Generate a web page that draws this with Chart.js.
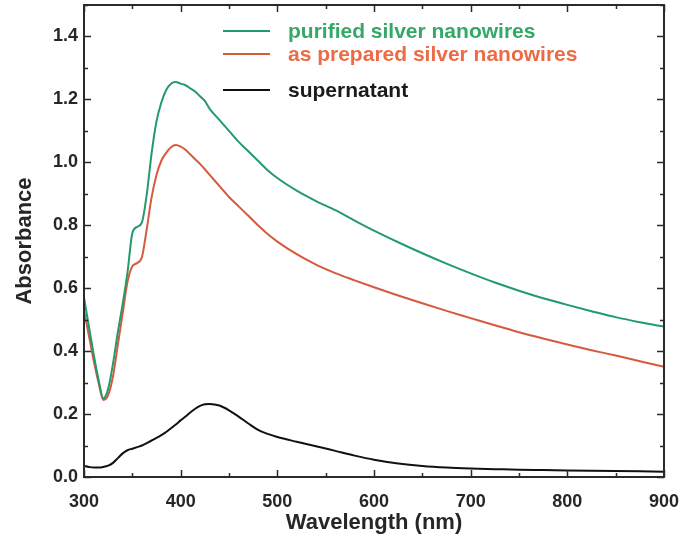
<!DOCTYPE html>
<html>
<head>
<meta charset="utf-8">
<script src="https://cdn.jsdelivr.net/npm/chart.js@4/dist/chart.umd.min.js"></script>
<style>
  html, body { margin: 0; padding: 0; background: #fff; }
  canvas { display: block; }
</style>
</head>
<body>
<canvas id="uvChart" width="686" height="541"></canvas>
<script>
// longueurs d'onde (nm)
const wavelengths = [300, 305, 310, 315, 320, 325, 330, 335, 340, 345, 350, 355, 360, 365, 370, 375, 380, 385, 390, 395,
    400, 405, 410, 415, 420, 425, 430, 440, 450, 460, 470, 480, 490, 500, 520, 540, 560, 580, 600,
    625, 650, 675, 700, 725, 750, 775, 800, 825, 850, 875, 900];

const purified = [0.57, 0.48, 0.39, 0.31, 0.25, 0.28, 0.36, 0.46, 0.55, 0.65, 0.775, 0.795, 0.81, 0.90, 1.03, 1.13, 1.19, 1.23, 1.25, 1.255,
    1.25, 1.245, 1.235, 1.225, 1.21, 1.195, 1.17, 1.135, 1.10, 1.065, 1.035, 1.005, 0.975, 0.95, 0.91, 0.877, 0.848, 0.815, 0.783,
    0.746, 0.711, 0.678, 0.647, 0.618, 0.592, 0.568, 0.547, 0.527, 0.508, 0.492, 0.478];

const asPrepared = [0.53, 0.45, 0.37, 0.30, 0.245, 0.26, 0.32, 0.42, 0.52, 0.62, 0.67, 0.68, 0.70, 0.79, 0.89, 0.96, 1.005, 1.03, 1.048, 1.055,
    1.05, 1.04, 1.025, 1.01, 0.995, 0.978, 0.96, 0.925, 0.89, 0.86, 0.83, 0.80, 0.772, 0.748, 0.708, 0.675, 0.648, 0.625, 0.603,
    0.577, 0.552, 0.528, 0.505, 0.482, 0.46, 0.44, 0.421, 0.403, 0.386, 0.368, 0.35];

const supernatant = [0.035, 0.032, 0.03, 0.03, 0.032, 0.036, 0.045, 0.06, 0.075, 0.085, 0.09, 0.095, 0.10, 0.108, 0.116, 0.124, 0.133, 0.143, 0.155, 0.167,
    0.18, 0.192, 0.205, 0.217, 0.226, 0.231, 0.232, 0.227, 0.212, 0.192, 0.17, 0.15, 0.137, 0.127, 0.112, 0.098, 0.083, 0.068, 0.055,
    0.043, 0.035, 0.03, 0.027, 0.025, 0.023, 0.022, 0.021, 0.02, 0.019, 0.018, 0.017];

const seriesNames = ['purified silver nanowires', 'as prepared silver nanowires', 'supernatant'];
const lineColors = ['#239a6c', '#d65a3e', '#111111'];
const textColors = ['#34a866', '#ec6a45', '#1a1a1a'];

function toPoints(values) {
    return wavelengths.map((w, i) => ({ x: w, y: values[i] }));
}

// ticks vers l'intérieur + cadre + légende
const framePlugin = {
    id: 'frame',
    afterDraw(chart) {
        const ctx = chart.ctx;
        const a = chart.chartArea;
        const xs = chart.scales.x;
        const ys = chart.scales.y;
        ctx.save();
        ctx.strokeStyle = '#2a2a2a';
        ctx.lineWidth = 1.5;
        for (let v = 300; v <= 900; v += 50) {
            const px = Math.round(xs.getPixelForValue(v)) + 0.5;
            const len = (v % 100 === 0) ? 7 : 4;
            ctx.beginPath();
            ctx.moveTo(px, a.bottom); ctx.lineTo(px, a.bottom - len);
            ctx.moveTo(px, a.top); ctx.lineTo(px, a.top + len);
            ctx.stroke();
        }
        for (let i = 0; i <= 15; i++) {
            const py = Math.round(ys.getPixelForValue(i / 10)) + 0.5;
            const len = (i % 2 === 0) ? 7 : 4;
            ctx.beginPath();
            ctx.moveTo(a.left, py); ctx.lineTo(a.left + len, py);
            ctx.moveTo(a.right, py); ctx.lineTo(a.right - len, py);
            ctx.stroke();
        }
        ctx.lineWidth = 2;
        ctx.strokeRect(a.left, a.top, a.right - a.left, a.bottom - a.top);

        // légende
        const rows = [31, 54, 90];
        ctx.font = 'bold 21px "Liberation Sans", Arial, sans-serif';
        ctx.textBaseline = 'middle';
        chart.data.datasets.forEach((ds, i) => {
            ctx.strokeStyle = ds.borderColor;
            ctx.lineWidth = 2;
            ctx.beginPath();
            ctx.moveTo(223, rows[i]); ctx.lineTo(270, rows[i]);
            ctx.stroke();
            ctx.fillStyle = textColors[i];
            ctx.fillText(ds.label, 288, rows[i] + 1);
        });
        ctx.restore();
    }
};

const tickFont = { family: '"Liberation Sans", Arial, sans-serif', size: 18, weight: 'bold' };
const titleFont = { family: '"Liberation Sans", Arial, sans-serif', size: 22, weight: 'bold' };

new Chart(document.getElementById('uvChart').getContext('2d'), {
    type: 'line',
    data: {
        datasets: [purified, asPrepared, supernatant].map((vals, i) => ({
            label: seriesNames[i],
            data: toPoints(vals),
            borderColor: lineColors[i],
            borderWidth: 2,
            pointRadius: 0,
            cubicInterpolationMode: 'monotone',
            fill: false
        }))
    },
    options: {
        responsive: false,
        animation: false,
        layout: { padding: { top: 5, right: 22, left: 0, bottom: 0 } },
        plugins: { legend: { display: false }, tooltip: { enabled: false } },
        scales: {
            x: {
                type: 'linear',
                min: 300,
                max: 900,
                grid: { display: false, drawTicks: false },
                border: { display: false },
                ticks: {
                    stepSize: 100,
                    padding: 14,
                    color: '#262626',
                    font: tickFont,
                    callback: v => String(v)
                },
                title: { display: true, text: 'Wavelength (nm)', color: '#262626', font: titleFont, padding: { top: 0, bottom: 5 } },
                afterFit: s => { s.height = 64; s.paddingLeft = 0; s.paddingRight = 0; }
            },
            y: {
                min: 0,
                max: 1.5,
                grid: { display: false, drawTicks: false },
                border: { display: false },
                ticks: {
                    stepSize: 0.2,
                    includeBounds: false,
                    padding: 6,
                    color: '#262626',
                    font: tickFont,
                    callback: v => v.toFixed(1)
                },
                title: { display: true, text: 'Absorbance', color: '#262626', font: titleFont, padding: { top: 12, bottom: 0 } },
                afterFit: s => { s.width = 84; s.paddingTop = 0; s.paddingBottom = 0; }
            }
        }
    },
    plugins: [framePlugin]
});
</script>
</body>
</html>
